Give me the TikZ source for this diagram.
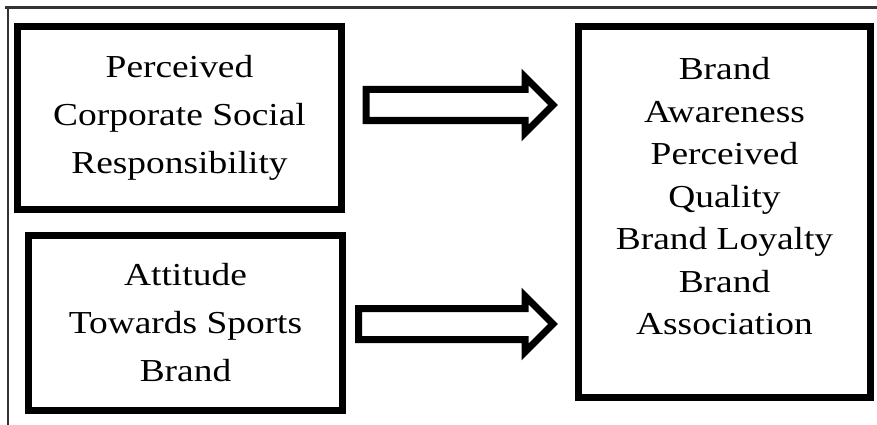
\documentclass[tikz,border=0pt]{standalone}
\usepackage{fontspec}
\setmainfont{Liberation Serif}[FakeStretch=1.17]

\begin{document}
\begin{tikzpicture}[x=1pt,y=-1pt,
    box/.style={shape=rectangle,draw=black,line width=7pt,align=center,inner sep=0pt},
    hollow/.style={draw=black,line width=7pt,fill=white,miter limit=10}]
    \useasboundingbox (0,0) rectangle (877,425);
    \draw[line width=2.5pt,black!80] (5,7.5) -- (877,7.5);
    \draw[line width=1.5pt,black!80] (8,6.5) -- (8,425);
    \node[box,minimum width=324pt,minimum height=183pt,font=\fontsize{32}{48}\selectfont] (csr) at (179.5,118) {Perceived\\Corporate Social\\Responsibility};
    \node[box,minimum width=314pt,minimum height=175pt,font=\fontsize{32}{48}\selectfont] (att) at (185.5,323) {Attitude\\Towards Sports\\Brand};
    \node[box,minimum width=292pt,minimum height=371pt,font=\fontsize{32}{42.5}\selectfont,text depth=32pt] (equity) at (724.5,212) {Brand\\Awareness\\Perceived\\Quality\\Brand Loyalty\\Brand\\Association};
    \coordinate (tip1) at (553,105);
    \coordinate (tip2) at (553,324);
    \draw[hollow,shift={(tip1)}] (-187,-15.5) -- (-28,-15.5) -- (-28,-28) -- (0,0) -- (-28,28) -- (-28,15.5) -- (-187,15.5) -- cycle;
    \draw[hollow,shift={(tip2)}] (-194.5,-15.5) -- (-28,-15.5) -- (-28,-28) -- (0,0) -- (-28,28) -- (-28,15.5) -- (-194.5,15.5) -- cycle;
\end{tikzpicture}
\end{document}
